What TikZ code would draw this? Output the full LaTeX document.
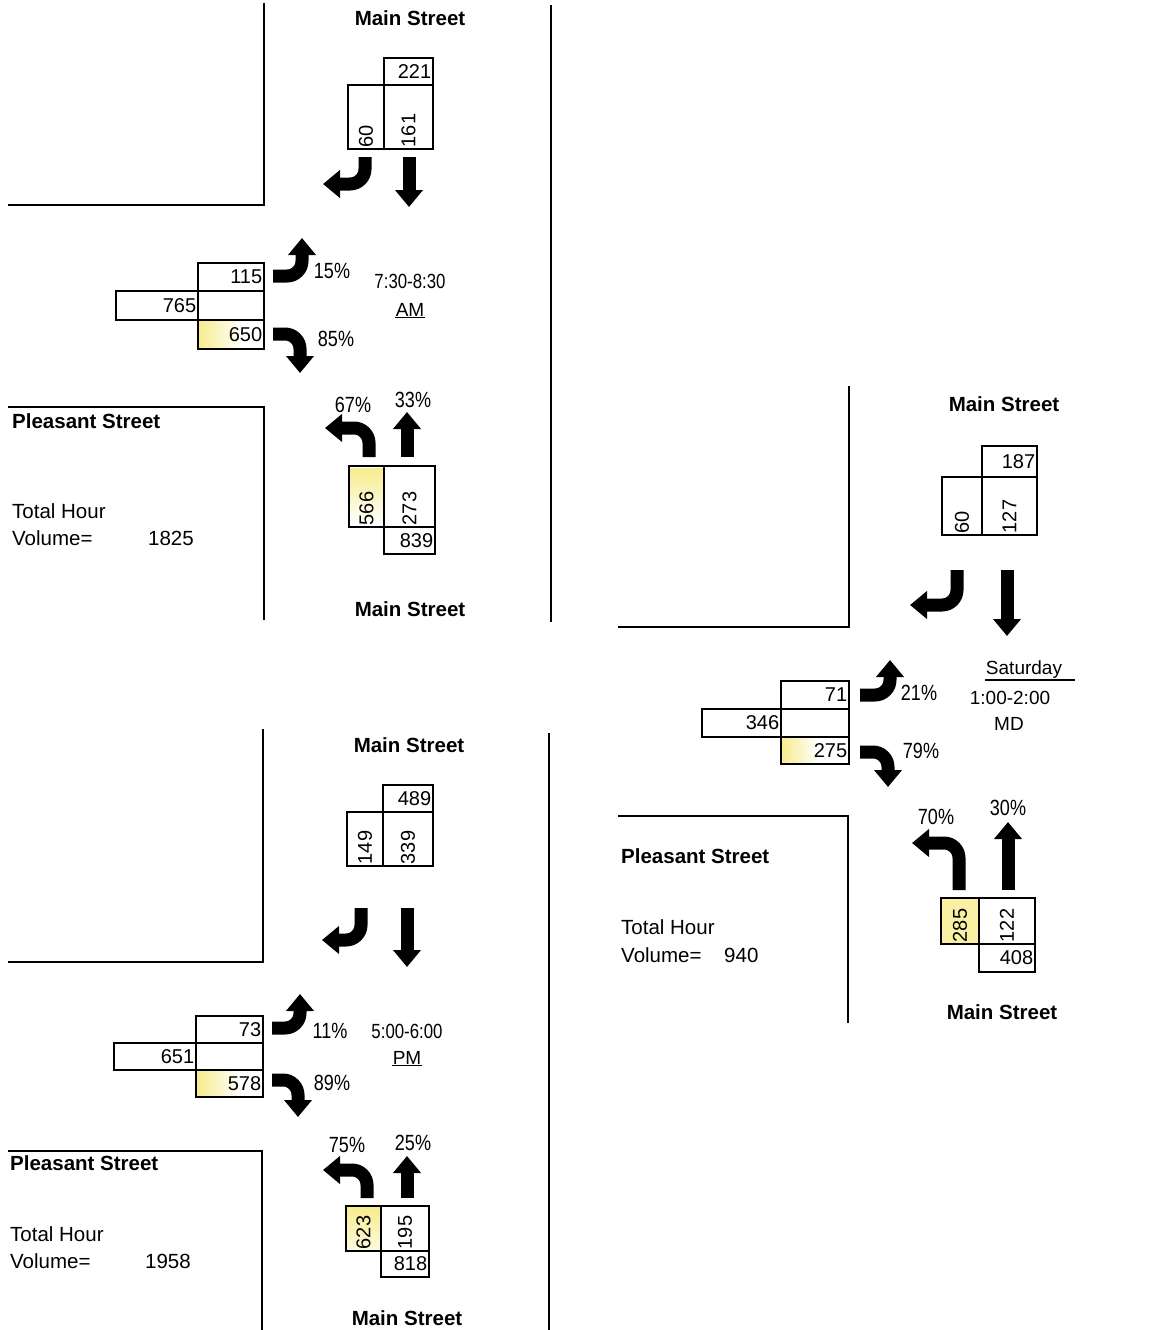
\documentclass[tikz,border=0pt]{standalone}
\usepackage{fontspec}
\setmainfont{Liberation Sans}
\newfontfamily\narrowfont[FakeStretch=0.82]{Liberation Sans}
\usetikzlibrary{arrows.meta, fit}
\definecolor{hlYellow}{HTML}{F7EC8E}

\tikzset{
  road/.style={line width=1.8pt},
  cell/.style={draw, line width=1.8pt, inner sep=0pt},
  num/.style={font=\fontsize{20}{20}\selectfont, inner sep=2.5pt},
  vnum/.style={num, rotate=90, anchor=west},
  street/.style={font=\bfseries\fontsize{20.5}{20.5}\selectfont},
  total/.style={font=\fontsize{20.5}{20.5}\selectfont, anchor=west, inner sep=0pt},
  pct/.style={font=\narrowfont\fontsize{22}{22}\selectfont, inner sep=0pt},
  period/.style={font=\narrowfont\fontsize{20.5}{20.5}\selectfont, inner sep=1pt},
  tag/.style={font=\fontsize{19}{19}\selectfont, inner sep=1pt},
  move/.style={line width=13pt, -{Triangle[width=27pt,length=17pt]}},
  turn/.style={move, rounded corners=15pt}
}

\begin{document}
\begin{tikzpicture}[x=1pt, y=-1pt]
  % 1 unit = 1 px of the count sheet, y grows downwards
  \useasboundingbox (0,0) rectangle (1159,1330);

  % ================= AM peak 7:30-8:30 =================
  \draw[road] (264,3) -- (264,205) -- (8,205);
  \draw[road] (8,407) -- (264,407) -- (264,620);
  \draw[road] (551,5) -- (551,622);
  \node[street] (amMainN) at (410,18) {Main Street};
  \node[street] (amMainS) at (410,609) {Main Street};
  \node[street, anchor=west, inner sep=0pt] (amPleasant) at (12,421) {Pleasant Street};
  \node[total] (amTotA) at (12,511) {Total Hour};
  \node[total] (amTotB) at (12,538) {Volume=};
  \node[total] (amTotC) at (148,538) {1825};
  % highlighted cells
  \shade[left color=hlYellow, right color=white] (199,321) rectangle (242,348);
  \shade[top color=hlYellow, bottom color=white] (350,468) rectangle (383,524);
  % southbound
  \node[cell, fit={(384,58)(433,85)}] (amSall) {};
  \node[cell, fit={(348,85)(384,149)}] (amSl) {};
  \node[cell, fit={(384,85)(433,149)}] (amSt) {};
  \node[num, anchor=east] (amSallv) at (amSall.east) {221};
  \node[vnum] (amSlv) at (amSl.south) {60};
  \node[vnum] (amStv) at (amSt.south) {161};
  \coordinate (amSr0) at (365,157); \coordinate (amSr1) at (323,184);
  \coordinate (amSs0) at (409,157); \coordinate (amSs1) at (409,207);
  \draw[turn] (amSr0) |- (amSr1);
  \draw[move] (amSs0) -- (amSs1);
  % eastbound (Pleasant Street)
  \node[cell, fit={(198,263)(264,291)}] (amWl) {};
  \node[cell, fit={(116,291)(198,320)}] (amWall) {};
  \node[cell, fit={(198,291)(264,320)}] (amWmid) {};
  \node[cell, fit={(198,320)(264,349)}] (amWr) {};
  \node[num, anchor=east] (amWlv) at (amWl.east) {115};
  \node[num, anchor=east] (amWallv) at (amWall.east) {765};
  \node[num, anchor=east] (amWrv) at (amWr.east) {650};
  \coordinate (amWl0) at (273,276); \coordinate (amWl1) at (302,238);
  \coordinate (amWr0) at (273,334); \coordinate (amWr1) at (300,373);
  \draw[turn] (amWl0) -| (amWl1);
  \draw[turn] (amWr0) -| (amWr1);
  \node[pct] (amWlp) at (332,271) {15\%};
  \node[pct] (amWrp) at (336,339) {85\%};
  \node[period] (amTime) at (410,281) {7:30-8:30};
  \node[tag] (amTag) at (410,310) {AM};
  \draw[line width=1.3pt] (amTag.south west) -- (amTag.south east);
  % northbound
  \node[cell, fit={(349,466)(384,527)}] (amNl) {};
  \node[cell, fit={(384,466)(435,527)}] (amNt) {};
  \node[cell, fit={(384,527)(435,554)}] (amNall) {};
  \node[vnum] (amNlv) at (amNl.south) {566};
  \node[vnum] (amNtv) at (amNt.south) {273};
  \node[num, anchor=east] (amNallv) at (amNall.east) {839};
  \coordinate (amNl0) at (369,457); \coordinate (amNl1) at (325,428);
  \coordinate (amNs0) at (407,457); \coordinate (amNs1) at (407,412);
  \draw[turn] (amNl0) |- (amNl1);
  \draw[move] (amNs0) -- (amNs1);
  \node[pct] (amNlp) at (353,405) {67\%};
  \node[pct] (amNsp) at (413,400) {33\%};

  % ================= PM peak 5:00-6:00 =================
  \draw[road] (263,729) -- (263,962) -- (8,962);
  \draw[road] (8,1151) -- (262,1151) -- (262,1330);
  \draw[road] (549,733) -- (549,1330);
  \node[street] (pmMainN) at (409,745) {Main Street};
  \node[street] (pmMainS) at (407,1318) {Main Street};
  \node[street, anchor=west, inner sep=0pt] (pmPleasant) at (10,1163) {Pleasant Street};
  \node[total] (pmTotA) at (10,1234) {Total Hour};
  \node[total] (pmTotB) at (10,1261) {Volume=};
  \node[total] (pmTotC) at (145,1261) {1958};
  % highlighted cells
  \shade[left color=hlYellow, right color=white] (197,1071) rectangle (240,1096);
  \shade[top color=hlYellow, bottom color=hlYellow!30] (347,1207) rectangle (380,1250);
  % southbound
  \node[cell, fit={(383,785)(433,812)}] (pmSall) {};
  \node[cell, fit={(347,812)(383,866)}] (pmSl) {};
  \node[cell, fit={(383,812)(433,866)}] (pmSt) {};
  \node[num, anchor=east] (pmSallv) at (pmSall.east) {489};
  \node[vnum] (pmSlv) at (pmSl.south) {149};
  \node[vnum] (pmStv) at (pmSt.south) {339};
  \coordinate (pmSr0) at (361,908); \coordinate (pmSr1) at (322,940);
  \coordinate (pmSs0) at (407,908); \coordinate (pmSs1) at (407,967);
  \draw[turn] (pmSr0) |- (pmSr1);
  \draw[move] (pmSs0) -- (pmSs1);
  % eastbound (Pleasant Street)
  \node[cell, fit={(196,1016)(263,1043)}] (pmWl) {};
  \node[cell, fit={(114,1043)(196,1070)}] (pmWall) {};
  \node[cell, fit={(196,1043)(263,1070)}] (pmWmid) {};
  \node[cell, fit={(196,1070)(263,1097)}] (pmWr) {};
  \node[num, anchor=east] (pmWlv) at (pmWl.east) {73};
  \node[num, anchor=east] (pmWallv) at (pmWall.east) {651};
  \node[num, anchor=east] (pmWrv) at (pmWr.east) {578};
  \coordinate (pmWl0) at (272,1028); \coordinate (pmWl1) at (300,994);
  \coordinate (pmWr0) at (272,1080); \coordinate (pmWr1) at (298,1117);
  \draw[turn] (pmWl0) -| (pmWl1);
  \draw[turn] (pmWr0) -| (pmWr1);
  \node[pct] (pmWlp) at (330,1031) {11\%};
  \node[pct] (pmWrp) at (332,1083) {89\%};
  \node[period] (pmTime) at (407,1031) {5:00-6:00};
  \node[tag] (pmTag) at (407,1058) {PM};
  \draw[line width=1.3pt] (pmTag.south west) -- (pmTag.south east);
  % northbound
  \node[cell, fit={(346,1206)(381,1251)}] (pmNl) {};
  \node[cell, fit={(381,1206)(429,1251)}] (pmNt) {};
  \node[cell, fit={(381,1251)(429,1277)}] (pmNall) {};
  \node[vnum] (pmNlv) at (pmNl.south) {623};
  \node[vnum] (pmNtv) at (pmNt.south) {195};
  \node[num, anchor=east] (pmNallv) at (pmNall.east) {818};
  \coordinate (pmNl0) at (367,1198); \coordinate (pmNl1) at (323,1170);
  \coordinate (pmNs0) at (407,1198); \coordinate (pmNs1) at (407,1156);
  \draw[turn] (pmNl0) |- (pmNl1);
  \draw[move] (pmNs0) -- (pmNs1);
  \node[pct] (pmNlp) at (347,1145) {75\%};
  \node[pct] (pmNsp) at (413,1143) {25\%};

  % ================= Saturday midday 1:00-2:00 =================
  \draw[road] (849,386) -- (849,627) -- (618,627);
  \draw[road] (618,816) -- (848,816) -- (848,1023);
  \node[street] (mdMainN) at (1004,404) {Main Street};
  \node[street] (mdMainS) at (1002,1012) {Main Street};
  \node[street, anchor=west, inner sep=0pt] (mdPleasant) at (621,856) {Pleasant Street};
  \node[total] (mdTotA) at (621,927) {Total Hour};
  \node[total] (mdTotB) at (621,955) {Volume=};
  \node[total] (mdTotC) at (724,955) {940};
  % highlighted cells
  \shade[left color=hlYellow, right color=white] (782,738) rectangle (818,763);
  \fill[hlYellow!80] (942,899) rectangle (978,943);
  % southbound
  \node[cell, fit={(982,446)(1037,477)}] (mdSall) {};
  \node[cell, fit={(942,477)(982,535)}] (mdSl) {};
  \node[cell, fit={(982,477)(1037,535)}] (mdSt) {};
  \node[num, anchor=east] (mdSallv) at (mdSall.east) {187};
  \node[vnum] (mdSlv) at (mdSl.south) {60};
  \node[vnum] (mdStv) at (mdSt.south) {127};
  \coordinate (mdSr0) at (957,570); \coordinate (mdSr1) at (910,605);
  \coordinate (mdSs0) at (1007,570); \coordinate (mdSs1) at (1007,636);
  \draw[turn] (mdSr0) |- (mdSr1);
  \draw[move] (mdSs0) -- (mdSs1);
  % eastbound (Pleasant Street)
  \node[cell, fit={(781,681)(849,709)}] (mdWl) {};
  \node[cell, fit={(702,709)(781,737)}] (mdWall) {};
  \node[cell, fit={(781,709)(849,737)}] (mdWmid) {};
  \node[cell, fit={(781,737)(849,764)}] (mdWr) {};
  \node[num, anchor=east] (mdWlv) at (mdWl.east) {71};
  \node[num, anchor=east] (mdWallv) at (mdWall.east) {346};
  \node[num, anchor=east] (mdWrv) at (mdWr.east) {275};
  \coordinate (mdWl0) at (860,695); \coordinate (mdWl1) at (890,660);
  \coordinate (mdWr0) at (860,752); \coordinate (mdWr1) at (888,787);
  \draw[turn] (mdWl0) -| (mdWl1);
  \draw[turn] (mdWr0) -| (mdWr1);
  \node[pct] (mdWlp) at (919,693) {21\%};
  \node[pct] (mdWrp) at (921,751) {79\%};
  \node[tag] (mdTag) at (1024,670) {Saturday};
  \draw[line width=1.3pt] (mdTag.south west) -- ([xshift=12pt]mdTag.south east);
  \node[period, font=\fontsize{19}{19}\selectfont] (mdTime) at (1010,698) {1:00-2:00};
  \node[tag] (mdMD) at (1009,724) {MD};
  % northbound
  \node[cell, fit={(941,898)(979,944)}] (mdNl) {};
  \node[cell, fit={(979,898)(1035,944)}] (mdNt) {};
  \node[cell, fit={(979,944)(1035,972)}] (mdNall) {};
  \node[vnum] (mdNlv) at (mdNl.south) {285};
  \node[vnum] (mdNtv) at (mdNt.south) {122};
  \node[num, anchor=east] (mdNallv) at (mdNall.east) {408};
  \coordinate (mdNl0) at (959,890); \coordinate (mdNl1) at (912,843);
  \coordinate (mdNs0) at (1008,890); \coordinate (mdNs1) at (1008,822);
  \draw[turn] (mdNl0) |- (mdNl1);
  \draw[move] (mdNs0) -- (mdNs1);
  \node[pct] (mdNlp) at (936,817) {70\%};
  \node[pct] (mdNsp) at (1008,808) {30\%};
\end{tikzpicture}
\end{document}
